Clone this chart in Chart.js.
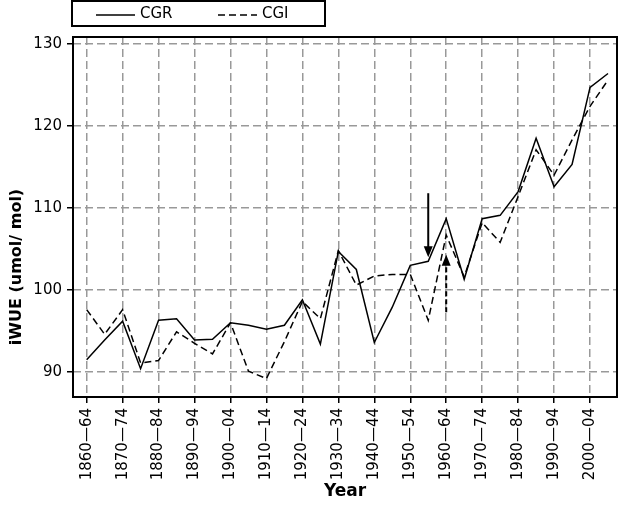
<!DOCTYPE html>
<html>
<head>
<meta charset="utf-8">
<script src="https://cdn.jsdelivr.net/npm/chart.js@4.4.0/dist/chart.umd.min.js"></script>
<style>
  html, body { margin: 0; padding: 0; background: #fff; }
</style>
</head>
<body>
<canvas id="iwueChart" width="622" height="505"></canvas>
<script>
const periods = [
  '1860—64', '1865—69', '1870—74', '1875—79', '1880—84', '1885—89',
  '1890—94', '1895—99', '1900—04', '1905—09', '1910—14', '1915—19',
  '1920—24', '1925—29', '1930—34', '1935—39', '1940—44', '1945—49',
  '1950—54', '1955—59', '1960—64', '1965—69', '1970—74', '1975—79',
  '1980—84', '1985—89', '1990—94', '1995—99', '2000—04', '2005—09'
];

const cgr = [91.5, 93.9, 96.2, 90.4, 96.3, 96.5, 93.9, 94.0, 96.0, 95.7,
             95.2, 95.7, 98.8, 93.4, 104.7, 102.5, 93.6, 97.9, 103.0, 103.5,
             108.7, 101.3, 108.7, 109.1, 112.0, 118.5, 112.6, 115.3, 124.7, 126.4];

const cgi = [97.6, 94.6, 97.6, 91.1, 91.4, 94.9, 93.5, 92.2, 96.0, 90.1,
             89.2, 93.7, 98.6, 96.5, 104.8, 100.6, 101.7, 101.9, 101.9, 96.3,
             106.7, 101.6, 108.2, 105.8, 111.4, 117.1, 114.0, 118.3, 122.4, 125.6];

const yTicks = [90, 100, 110, 120, 130];

// arrows marking the two periods (period index, start value, tip value)
const arrowMarks = [
  { period: 19, from: 111.8, to: 104.0, dashed: false },
  { period: 20, from: 97.3, to: 104.3, dashed: true }
];

const FONT = '"DejaVu Sans", Verdana, sans-serif';

const toPoints = values => values.map((v, i) => ({ x: i, y: v }));

// legend box, plot frame, arrows and y title
const decorations = {
  id: 'decorations',
  afterDraw(chart) {
    const { ctx, chartArea, scales } = chart;
    ctx.save();

    // frame round the plot
    ctx.strokeStyle = '#000';
    ctx.lineWidth = 2;
    ctx.setLineDash([]);
    ctx.strokeRect(chartArea.left, chartArea.top, chartArea.right - chartArea.left, chartArea.bottom - chartArea.top);

    // legend
    const lx = chartArea.left - 1;
    ctx.strokeRect(lx, 1, 253, 25);
    chart.data.datasets.forEach((ds, i) => {
      const sx = lx + 24 + i * 122;
      ctx.lineWidth = 1.5;
      ctx.setLineDash(ds.borderDash || []);
      ctx.beginPath();
      ctx.moveTo(sx, 15);
      ctx.lineTo(sx + 39, 15);
      ctx.stroke();
      ctx.setLineDash([]);
      ctx.fillStyle = '#000';
      ctx.font = '15px ' + FONT;
      ctx.textBaseline = 'middle';
      ctx.textAlign = 'left';
      ctx.fillText(ds.label, sx + 44, 14);
    });

    // arrows
    arrowMarks.forEach(a => {
      const x = scales.x.getPixelForValue(a.period);
      const y0 = scales.y.getPixelForValue(a.from);
      const y1 = scales.y.getPixelForValue(a.to);
      const dir = y1 > y0 ? 1 : -1;
      ctx.lineWidth = 2;
      ctx.setLineDash(a.dashed ? [5, 3] : []);
      ctx.beginPath();
      ctx.moveTo(x, y0);
      ctx.lineTo(x, y1 - dir * 8);
      ctx.stroke();
      ctx.setLineDash([]);
      ctx.beginPath();
      ctx.moveTo(x, y1);
      ctx.lineTo(x - 4.5, y1 - dir * 11);
      ctx.lineTo(x + 4.5, y1 - dir * 11);
      ctx.closePath();
      ctx.fill();
    });

    // y axis title
    ctx.translate(17, chartArea.bottom - 130);
    ctx.rotate(-Math.PI / 2);
    ctx.font = 'bold 16px ' + FONT;
    ctx.textAlign = 'center';
    ctx.textBaseline = 'middle';
    ctx.fillText('iWUE (umol/ mol)', 0, 0);
    ctx.restore();
  }
};

new Chart('iwueChart', {
  type: 'line',
  data: {
    datasets: [
      {
        label: 'CGR',
        data: toPoints(cgr),
        borderColor: '#000',
        borderWidth: 1.5,
        pointRadius: 0,
        tension: 0
      },
      {
        label: 'CGI',
        data: toPoints(cgi),
        borderColor: '#000',
        borderWidth: 1.5,
        borderDash: [7, 4],
        pointRadius: 0,
        tension: 0
      }
    ]
  },
  options: {
    responsive: false,
    animation: false,
    devicePixelRatio: 1,
    layout: { padding: { top: 37, right: 5, left: 0, bottom: 0 } },
    plugins: {
      legend: { display: false },
      tooltip: { enabled: false }
    },
    scales: {
      x: {
        type: 'linear',
        min: -0.76,
        max: 29.5,
        afterFit: s => { s.height = 108; },
        border: { display: false, dash: [8, 4] },
        grid: {
          color: '#999',
          lineWidth: 1.5,
          tickLength: 6,
          tickColor: '#000',
          tickWidth: 1.5,
          tickBorderDash: []
        },
        ticks: {
          stepSize: 2,
          includeBounds: false,
          autoSkip: false,
          maxRotation: 90,
          minRotation: 90,
          padding: 5,
          color: '#000',
          font: { family: FONT, size: 15 },
          callback: v => periods[v] ?? ''
        },
        title: {
          display: true,
          text: 'Year',
          color: '#000',
          font: { family: FONT, size: 17, weight: 'bold' },
          padding: { top: 0, bottom: 3 }
        }
      },
      y: {
        min: 86.95,
        max: 130.85,
        afterFit: s => { s.width = 73; },
        afterBuildTicks: s => { s.ticks = yTicks.map(v => ({ value: v })); },
        border: { display: false, dash: [8, 4] },
        grid: {
          color: '#999',
          lineWidth: 1.5,
          tickLength: 6,
          tickColor: '#000',
          tickWidth: 1.5,
          tickBorderDash: []
        },
        ticks: {
          padding: 5,
          color: '#000',
          font: { family: FONT, size: 15 }
        }
      }
    }
  },
  plugins: [decorations]
});
</script>
</body>
</html>
